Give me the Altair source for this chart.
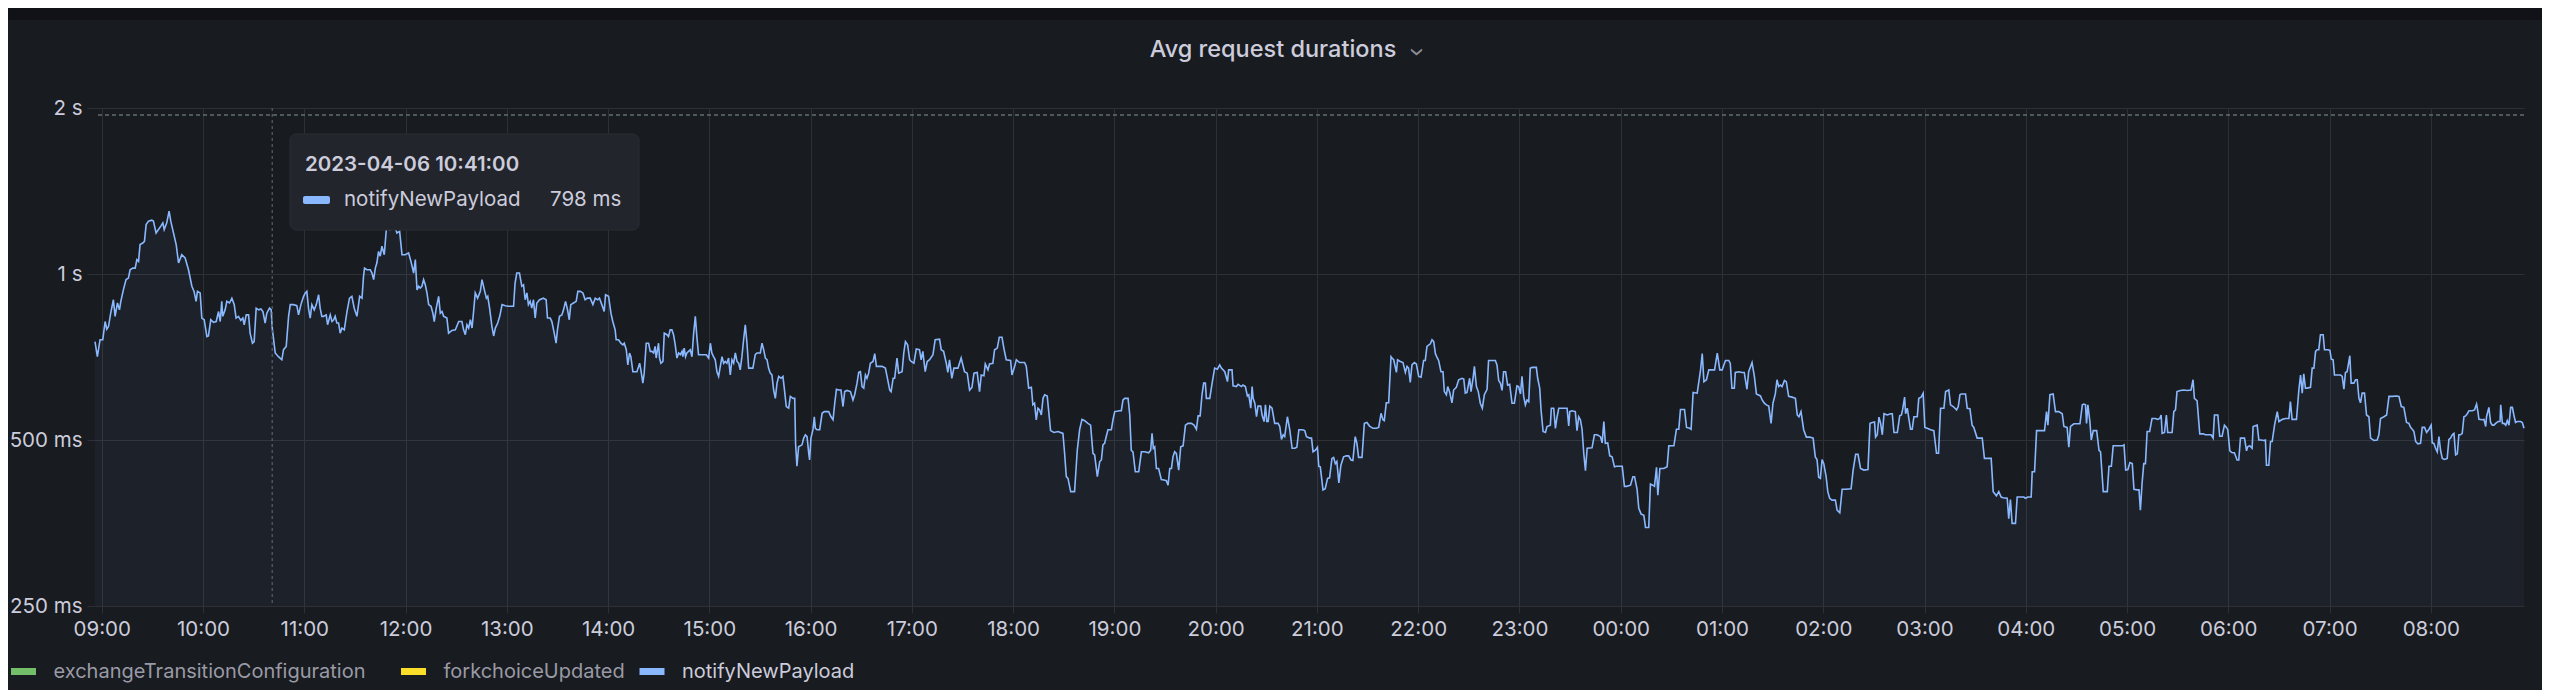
import altair as alt
import pandas as pd

# ---------------- data ----------------
SERIES = ["exchangeTransitionConfiguration", "forkchoiceUpdated", "notifyNewPayload"]
SERIES_COLORS = ["#73bf69", "#fade2a", "#8ab8ff"]
SHOWN_SERIES = "notifyNewPayload"
Y_TICKS = [250, 500, 1000, 2000]
Y_TICK_LABELS = ["250 ms", "500 ms", "1 s", "2 s"]
START = "2023-04-06 09:00:00"          # minute offsets below are relative to this
HOVER_TIME = "2023-04-06 10:41:00"
HOVER_VALUE_MS = 798
THRESHOLD_MS = 1942
TITLE = "Avg request durations"

# (minutes after 09:00, avg duration in ms)
block_0856_1300 = [
    (-4.0, 754), (-2.6, 708), (-1.0, 760), (0.6, 760), (2.0, 820), (3.0, 794), (4.0, 803), (5.3, 849),
    (6.9, 898), (7.9, 838), (9.3, 886), (10.5, 861), (11.3, 892), (12.8, 936), (14.4, 977), (15.8, 983),
    (16.8, 1018), (18.4, 1025), (19.8, 1025), (20.8, 1062), (21.8, 1054), (22.7, 1131), (24.3, 1138),
    (25.3, 1146), (26.3, 1229), (27.7, 1247), (29.6, 1252), (30.6, 1247), (32.2, 1187), (33.6, 1204),
    (35.0, 1221), (36.2, 1238), (37.0, 1204), (38.5, 1238), (39.9, 1300), (40.9, 1247), (42.5, 1187),
    (44.1, 1131), (45.5, 1047), (47.4, 1084), (49.4, 1069), (51.4, 1018), (53.4, 950), (54.7, 930),
    (55.9, 892), (56.7, 930), (58.3, 924), (59.3, 832), (60.7, 826), (62.3, 770), (63.2, 772), (64.6, 826),
    (66.2, 817), (67.8, 820), (69.2, 855), (70.2, 820), (71.1, 892), (71.7, 838), (73.1, 861), (74.1, 892),
    (75.7, 886), (77.1, 904), (78.5, 880), (79.6, 832), (81.0, 838), (82.4, 824), (83.6, 832), (84.4, 809),
    (85.6, 843), (87.0, 843), (87.9, 781), (89.3, 749), (90.3, 754), (91.5, 867), (92.9, 861), (94.3, 864),
    (95.5, 855), (96.8, 815), (97.8, 849), (99.4, 867), (100.4, 861), (101.0, 798), (102.8, 719), (104.7, 708),
    (106.7, 699), (107.7, 729), (109.3, 739), (110.7, 838), (111.7, 880), (113.6, 880), (115.6, 876),
    (116.6, 843), (118.0, 880), (119.6, 911), (120.6, 924), (121.5, 930), (122.5, 867), (123.5, 832),
    (124.5, 880), (125.9, 861), (127.1, 880), (128.5, 917), (129.4, 867), (130.4, 838), (131.4, 838),
    (133.0, 843), (133.8, 809), (135.4, 843), (136.4, 820), (137.4, 826), (138.3, 838), (139.3, 815),
    (140.3, 815), (141.3, 781), (142.3, 798), (143.7, 792), (145.3, 855), (146.8, 904), (148.2, 911),
    (149.6, 867), (151.2, 838), (152.8, 911), (154.2, 904), (155.1, 990), (155.7, 1025), (157.1, 1018),
    (159.1, 1018), (160.1, 1004), (161.1, 977), (162.1, 1025), (163.0, 1047), (164.0, 1099), (165.0, 1077),
    (166.0, 1123), (167.4, 1084), (168.6, 1204), (170.0, 1260), (170.9, 1204), (172.9, 1221), (173.9, 1212),
    (174.9, 1187), (176.5, 1195), (177.9, 1084), (179.8, 1084), (181.8, 1092), (183.2, 1054), (184.8, 1004),
    (185.8, 1062), (186.8, 936), (187.8, 950), (188.7, 943), (189.7, 950), (190.7, 977), (191.7, 956),
    (192.7, 924), (193.7, 880), (195.1, 874), (196.2, 849), (197.0, 820), (198.2, 867), (199.6, 911),
    (200.6, 849), (201.6, 855), (202.6, 838), (204.5, 832), (205.5, 781), (207.5, 790), (209.5, 792),
    (211.5, 820), (213.4, 820), (214.4, 792), (215.4, 776), (216.4, 809), (217.4, 798), (218.4, 826),
    (219.4, 798), (220.4, 861), (221.3, 924), (222.7, 904), (224.3, 930), (225.3, 977), (226.7, 936),
    (227.9, 904), (228.7, 911), (229.8, 867), (231.2, 803), (232.2, 772), (233.2, 798), (234.6, 815),
    (235.8, 838), (237.2, 880), (239.1, 876), (241.1, 874),
]

block_1300_1700 = [
    (242.0, 874), (244.0, 874), (244.9, 963), (245.9, 1004), (247.5, 1004), (248.9, 950), (249.9, 956),
    (250.9, 898), (251.9, 924), (252.8, 880), (253.8, 892), (254.8, 867), (255.8, 898), (256.8, 832),
    (257.8, 886), (259.4, 898), (261.7, 904), (263.3, 898), (264.1, 832), (265.7, 832), (266.7, 820),
    (268.1, 781), (269.2, 749), (270.0, 792), (271.2, 838), (272.6, 843), (273.6, 861), (274.8, 892),
    (276.0, 861), (277.0, 826), (277.9, 880), (279.5, 886), (281.1, 892), (282.1, 930), (283.5, 930),
    (285.1, 924), (286.4, 898), (287.8, 904), (289.4, 904), (291.0, 880), (292.4, 904), (293.8, 898),
    (294.9, 904), (296.3, 880), (297.7, 855), (298.5, 917), (300.3, 911), (301.7, 849), (302.8, 820),
    (304.2, 792), (304.8, 760), (306.2, 760), (307.6, 749), (308.8, 744), (309.6, 749), (310.8, 729),
    (311.7, 684), (312.7, 719), (313.5, 708), (314.7, 665), (316.1, 665), (317.1, 665), (318.7, 689),
    (319.6, 665), (320.6, 634), (321.4, 661), (322.6, 749), (324.0, 749), (325.0, 724), (326.0, 724),
    (327.0, 719), (327.9, 739), (328.5, 704), (329.9, 749), (330.5, 704), (331.3, 689), (332.5, 694),
    (333.3, 781), (334.9, 776), (335.8, 770), (336.8, 792), (337.8, 792), (338.8, 776), (339.8, 744),
    (340.8, 704), (341.8, 719), (342.8, 714), (343.8, 724), (344.3, 708), (345.1, 734), (345.9, 708),
    (346.7, 719), (347.7, 724), (348.7, 729), (349.7, 708), (350.7, 781), (351.7, 838), (352.6, 770),
    (353.6, 714), (355.6, 714), (358.2, 714), (359.6, 704), (360.6, 749), (361.5, 719), (362.5, 708),
    (363.5, 699), (364.5, 665), (365.5, 652), (366.5, 680), (367.5, 708), (368.5, 689), (369.4, 694),
    (370.4, 689), (371.4, 704), (372.4, 656), (373.4, 699), (374.4, 689), (375.4, 719), (376.4, 694),
    (377.4, 689), (378.3, 670), (379.3, 708), (380.3, 760), (381.3, 809), (382.3, 749), (383.3, 675),
    (384.3, 675), (385.8, 675), (387.2, 714), (388.2, 719), (390.2, 719), (391.2, 749), (392.2, 729),
    (393.2, 704), (394.2, 699), (395.1, 675), (396.1, 661), (397.1, 656), (398.1, 616), (399.1, 595),
    (400.1, 634), (401.1, 652), (402.5, 647), (403.6, 652), (404.4, 621), (405.6, 575), (407.0, 571),
    (408.0, 600), (409.6, 595), (410.6, 595), (411.1, 493), (411.9, 448), (412.9, 486), (414.9, 490),
    (415.9, 504), (416.9, 511), (417.9, 507), (418.9, 473), (419.4, 460), (420.2, 504), (421.4, 522),
    (422.2, 551), (422.8, 525), (423.8, 522), (425.4, 522), (426.8, 559), (428.1, 563), (430.7, 563),
    (432.1, 551), (433.3, 544), (434.3, 583), (435.3, 618), (436.6, 616), (438.0, 616), (438.6, 595),
    (439.2, 575), (440.2, 612), (441.6, 615), (443.6, 612), (445.1, 591), (446.1, 604), (447.5, 634),
    (448.5, 663), (449.5, 665), (450.5, 625), (451.5, 621), (452.5, 656), (453.4, 647), (454.4, 661),
    (455.4, 689), (457.0, 694), (458.0, 717), (459.0, 680), (462.3, 680), (464.3, 675), (465.3, 652),
    (466.9, 616), (467.7, 612), (468.9, 647), (469.8, 647), (471.2, 704), (472.2, 661), (474.2, 665),
    (475.2, 719), (476.2, 754), (477.5, 744), (478.7, 699),
]

block_1700_2100 = [
    (479.6, 694), (481.2, 689), (482.6, 731), (484.5, 729), (485.5, 699), (486.5, 724), (487.9, 665),
    (489.1, 694), (490.5, 699), (492.5, 714), (493.8, 760), (496.4, 762), (497.4, 729), (498.8, 724),
    (500.4, 689), (501.3, 663), (502.3, 699), (503.7, 647), (504.9, 675), (507.3, 675), (509.2, 704),
    (511.2, 665), (512.8, 661), (514.2, 616), (515.6, 623), (516.8, 661), (518.7, 663), (520.1, 612),
    (521.1, 656), (522.7, 654), (523.5, 687), (525.1, 670), (526.0, 687), (528.0, 689), (529.0, 729),
    (530.6, 734), (531.8, 768), (533.4, 768), (534.5, 734), (535.9, 699), (538.5, 697), (539.3, 656),
    (540.9, 680), (541.9, 699), (543.8, 691), (546.8, 691), (547.8, 680), (549.2, 621), (550.8, 623),
    (551.7, 579), (552.7, 583), (553.7, 544), (554.7, 571), (555.7, 567), (556.7, 555), (557.7, 595),
    (558.7, 604), (560.2, 601), (561.0, 567), (562.2, 520), (564.2, 516), (566.6, 518), (569.5, 514),
    (570.5, 473), (571.5, 429), (572.5, 426), (574.1, 403), (576.4, 403), (578.0, 479), (579.4, 522),
    (580.8, 545), (582.4, 542), (584.3, 536), (585.9, 532), (587.3, 473), (588.3, 470), (589.9, 429),
    (591.3, 457), (592.3, 460), (593.2, 490), (594.2, 493), (595.2, 508), (596.2, 522), (598.2, 522),
    (599.2, 545), (600.2, 563), (603.1, 565), (604.1, 565), (605.1, 591), (606.1, 595), (608.1, 595),
    (609.1, 555), (610.0, 479), (611.0, 476), (612.4, 438), (614.4, 438), (616.0, 476), (618.0, 476),
    (620.3, 474), (621.5, 479), (622.3, 514), (623.1, 483), (623.9, 486), (624.9, 444), (626.2, 444),
    (627.8, 424), (629.4, 423), (630.8, 422), (631.8, 414), (632.8, 444), (633.8, 444), (634.7, 466),
    (635.7, 476), (636.7, 473), (638.1, 441), (639.3, 486), (640.7, 488), (642.1, 532), (643.6, 536),
    (645.6, 536), (647.2, 532), (648.6, 523), (649.6, 553), (650.8, 553), (651.9, 604), (652.9, 634),
    (653.9, 634), (654.5, 595), (656.5, 595), (657.9, 634), (659.4, 675), (661.0, 672), (662.4, 684),
    (663.4, 675), (665.4, 665), (667.0, 638), (667.7, 670), (669.7, 670), (670.3, 627), (672.3, 625),
    (673.3, 631), (675.3, 625), (676.2, 629), (677.6, 625), (678.8, 601), (679.6, 604), (680.8, 571),
    (681.6, 625), (682.2, 595), (683.2, 583), (684.2, 551), (685.1, 576), (686.7, 576), (687.5, 555),
    (688.7, 540), (689.5, 579), (690.3, 540), (691.1, 540), (692.1, 576), (693.4, 571), (695.0, 536),
    (697.0, 536), (698.0, 529), (699.0, 501), (700.0, 511), (700.9, 507), (702.5, 551), (703.9, 522),
    (705.3, 483), (706.9, 483), (708.1, 485), (709.3, 522), (711.3, 522), (712.8, 520), (713.8, 507),
    (715.8, 504), (716.8, 504), (717.7, 476), (719.1, 479), (720.3, 485), (721.1, 448),
]

block_2100_0100 = [
    (722.0, 447), (723.6, 406), (724.9, 408), (726.3, 426), (727.5, 427), (728.9, 463), (729.9, 465),
    (730.9, 453), (731.8, 457), (733.0, 418), (734.2, 450), (735.8, 466), (737.4, 468), (738.8, 468),
    (740.2, 460), (741.3, 459), (742.7, 507), (743.7, 493), (744.7, 465), (746.7, 465), (748.1, 536),
    (749.6, 538), (751.2, 530), (753.2, 525), (755.2, 525), (756.6, 527), (758.0, 559), (759.1, 544),
    (759.9, 542), (761.1, 584), (762.5, 584), (763.9, 708), (764.5, 704), (765.5, 699), (767.1, 663),
    (767.8, 699), (769.4, 694), (771.0, 691), (772.4, 663), (773.4, 680), (774.3, 675), (775.3, 636),
    (776.3, 684), (777.7, 691), (778.9, 687), (780.3, 652), (781.7, 650), (783.2, 697), (784.2, 697),
    (785.2, 739), (787.2, 747), (788.2, 760), (789.2, 754), (790.2, 717), (791.1, 707), (792.1, 697),
    (793.5, 665), (794.7, 665), (795.5, 612), (796.7, 604), (797.5, 625), (798.7, 610), (800.0, 584),
    (801.0, 616), (802.6, 623), (804.0, 643), (806.0, 647), (807.0, 645), (807.9, 608), (808.9, 610),
    (810.5, 647), (811.3, 612), (812.5, 647), (813.3, 680), (814.5, 625), (815.6, 612), (816.8, 583),
    (818.0, 571), (819.2, 604), (820.8, 618), (821.7, 697), (823.1, 697), (825.7, 697), (826.7, 684),
    (827.7, 641), (828.7, 634), (829.7, 615), (830.6, 665), (831.8, 665), (833.0, 629), (834.2, 631),
    (835.6, 583), (837.0, 583), (838.5, 627), (839.5, 625), (840.6, 606), (841.5, 652), (842.5, 600),
    (843.5, 579), (844.5, 591), (845.5, 587), (846.4, 675), (847.6, 677), (850.0, 677), (850.8, 647),
    (852.0, 621), (852.8, 567), (854.0, 518), (855.4, 516), (856.3, 529), (858.3, 532), (858.9, 571),
    (860.3, 571), (861.3, 525), (862.3, 551), (863.3, 571), (865.2, 571), (868.2, 571), (869.2, 530),
    (869.8, 563), (871.1, 565), (873.1, 563), (874.1, 520), (875.1, 551), (876.1, 544), (877.1, 523),
    (878.1, 473), (879.1, 440), (880.1, 483), (883.0, 484), (884.4, 511), (886.0, 511), (888.0, 507),
    (889.0, 494), (890.0, 540), (890.9, 493), (892.3, 494), (893.5, 468), (894.9, 466), (896.3, 447),
    (897.5, 448), (900.9, 448), (902.2, 412), (903.4, 412), (905.8, 414), (907.2, 429), (908.2, 429),
    (909.7, 407), (910.7, 376), (912.1, 367), (913.7, 365), (914.7, 347), (916.6, 347), (917.6, 416),
    (919.0, 414), (920.0, 412), (921.2, 446), (922.0, 397), (923.2, 444), (925.5, 444), (927.5, 447),
    (928.5, 488), (931.5, 488), (933.0, 523), (934.4, 523), (935.4, 568), (937.8, 568), (939.0, 527),
    (940.9, 525), (941.7, 523), (942.9, 610), (945.3, 608), (946.3, 638), (947.3, 670), (948.3, 717),
    (949.3, 638), (950.8, 643), (952.2, 670), (953.6, 670), (955.6, 670), (957.2, 719), (958.7, 670),
    (960.1, 670), (961.1, 684), (962.1, 697), (964.0, 697),
]

block_0100_0500 = [
    (964.9, 689), (965.9, 621), (967.3, 621), (967.9, 663), (969.9, 665), (971.9, 663), (973.2, 663),
    (974.8, 618), (975.8, 665), (977.8, 691), (979.2, 652), (980.4, 606), (982.8, 601), (983.8, 591),
    (985.1, 583), (986.3, 579), (987.7, 576), (989.1, 536), (990.2, 583), (991.6, 606), (992.6, 643),
    (993.6, 625), (994.6, 629), (995.6, 625), (997.0, 641), (998.1, 638), (999.5, 600), (1001.5, 598),
    (1003.5, 595), (1004.6, 555), (1005.6, 551), (1006.8, 563), (1008.4, 522), (1010.0, 506), (1012.0, 506),
    (1014.0, 504), (1015.3, 466), (1016.3, 461), (1017.3, 428), (1018.3, 426), (1019.3, 461), (1020.3, 453),
    (1021.7, 429), (1022.7, 403), (1023.8, 392), (1025.2, 389), (1027.2, 389), (1028.2, 373), (1029.8, 369),
    (1031.2, 407), (1033.2, 407), (1036.5, 408), (1037.7, 441), (1039.2, 471), (1040.6, 471), (1042.1, 444),
    (1044.1, 441), (1046.5, 442), (1047.7, 536), (1049.1, 538), (1050.4, 539), (1051.0, 506), (1052.0, 511),
    (1053.0, 550), (1054.0, 536), (1055.0, 511), (1056.0, 558), (1057.9, 555), (1059.9, 558), (1060.9, 558),
    (1061.9, 516), (1063.9, 516), (1065.3, 553), (1066.3, 555), (1067.0, 567), (1068.2, 598), (1068.8, 558),
    (1069.8, 571), (1070.7, 547), (1071.7, 523), (1072.7, 523), (1073.7, 551), (1075.7, 551), (1076.6, 595),
    (1078.0, 598), (1079.2, 608), (1080.2, 527), (1081.6, 525), (1083.6, 522), (1085.5, 520), (1087.1, 473),
    (1088.3, 473), (1089.5, 571), (1091.5, 571), (1092.5, 612), (1094.4, 616), (1095.4, 579), (1097.0, 575),
    (1099.0, 567), (1100.0, 575), (1101.0, 604), (1101.7, 606), (1104.3, 606), (1105.3, 571), (1106.9, 570),
    (1108.2, 532), (1109.2, 527), (1111.2, 504), (1114.2, 504), (1115.5, 463), (1117.5, 463), (1119.5, 463),
    (1120.7, 403), (1122.6, 396), (1124.0, 403), (1125.4, 394), (1126.6, 393), (1129.0, 392), (1129.9, 360),
    (1130.9, 390), (1131.9, 353), (1133.9, 353), (1134.9, 394), (1136.9, 394), (1138.9, 394), (1139.8, 392),
    (1141.2, 394), (1143.2, 394), (1143.8, 438), (1145.2, 438), (1146.4, 520), (1147.8, 520), (1149.7, 520),
    (1151.1, 520), (1152.3, 563), (1153.1, 532), (1154.3, 604), (1156.2, 606), (1157.6, 563), (1159.6, 563),
    (1161.6, 558), (1162.6, 529), (1164.5, 527), (1165.5, 485), (1166.5, 529), (1168.5, 535), (1172.1, 535),
    (1173.5, 579), (1174.4, 581), (1175.4, 579), (1176.0, 536), (1176.8, 579), (1178.0, 540), (1178.8, 500),
    (1180.0, 520), (1182.0, 520), (1183.4, 479), (1184.3, 476), (1185.9, 403), (1188.3, 403), (1189.3, 448),
    (1190.7, 448), (1191.8, 488), (1197.2, 488), (1198.2, 490), (1199.2, 441), (1200.5, 442), (1201.7, 455),
    (1203.1, 453), (1204.1, 407), (1206.1, 406), (1207.1, 406),
]

block_0500_0855 = [
    (1207.9, 373), (1208.9, 417), (1209.9, 453), (1210.9, 453), (1211.9, 518), (1213.4, 518), (1214.8, 547),
    (1216.8, 547), (1218.2, 545), (1219.4, 547), (1220.2, 555), (1220.8, 514), (1222.2, 516), (1223.3, 555),
    (1224.1, 516), (1226.7, 516), (1227.7, 563), (1228.7, 567), (1229.6, 612), (1231.6, 615), (1233.6, 616),
    (1235.6, 615), (1237.9, 616), (1239.1, 643), (1239.9, 595), (1241.5, 589), (1243.1, 513), (1245.1, 513),
    (1246.4, 511), (1249.8, 511), (1251.0, 504), (1251.8, 555), (1253.8, 555), (1254.9, 508), (1256.3, 508),
    (1257.7, 532), (1258.9, 527), (1259.7, 522), (1260.9, 478), (1262.3, 474), (1263.6, 474), (1265.2, 460),
    (1266.2, 460), (1267.2, 504), (1269.6, 504), (1270.8, 478), (1271.5, 486), (1272.7, 488), (1274.1, 483),
    (1274.7, 529), (1275.5, 530), (1277.1, 532), (1278.1, 500), (1279.4, 500), (1281.0, 499), (1282.0, 500),
    (1282.6, 450), (1284.0, 450), (1285.0, 497), (1286.0, 497), (1287.4, 532), (1289.0, 563), (1290.0, 540),
    (1292.0, 545), (1293.9, 547), (1295.9, 547), (1296.8, 587), (1297.8, 545), (1300.4, 545), (1301.8, 616),
    (1302.8, 656), (1303.8, 608), (1304.7, 659), (1305.7, 621), (1306.7, 621), (1308.7, 623), (1309.7, 675),
    (1310.7, 675), (1311.7, 724), (1312.6, 729), (1313.6, 729), (1314.6, 776), (1316.2, 776), (1317.0, 729),
    (1319.0, 729), (1320.2, 727), (1321.0, 701), (1322.1, 699), (1322.9, 656), (1324.9, 656), (1326.5, 656),
    (1327.5, 652), (1328.5, 618), (1329.4, 663), (1330.4, 665), (1332.0, 711), (1332.8, 634), (1334.4, 634),
    (1335.4, 643), (1336.4, 643), (1337.4, 595), (1338.3, 584), (1339.3, 608), (1340.7, 608), (1341.9, 555),
    (1343.3, 551), (1344.3, 504), (1346.3, 499), (1348.2, 500), (1349.2, 511), (1350.2, 547), (1352.2, 551),
    (1353.8, 555), (1355.2, 600), (1357.1, 600), (1359.7, 601), (1361.1, 600), (1362.5, 575), (1364.0, 573),
    (1365.6, 538), (1367.0, 536), (1368.0, 527), (1369.0, 523), (1370.0, 518), (1371.0, 497), (1372.3, 492),
    (1373.9, 493), (1374.9, 527), (1376.3, 527), (1377.5, 516), (1378.9, 523), (1380.2, 532), (1380.8, 494),
    (1381.8, 493), (1382.8, 483), (1383.8, 476), (1384.8, 507), (1385.8, 478), (1386.8, 463), (1388.1, 461),
    (1389.7, 463), (1390.7, 501), (1391.7, 504), (1392.7, 511), (1393.7, 514), (1394.7, 470), (1395.7, 472),
    (1396.6, 511), (1397.6, 511), (1398.6, 514), (1399.6, 551), (1400.6, 553), (1401.6, 558), (1402.6, 565),
    (1404.5, 565), (1405.9, 567), (1407.1, 581), (1407.9, 563), (1408.5, 545), (1410.5, 544), (1411.5, 545),
    (1412.5, 529), (1413.0, 551), (1414.4, 573), (1415.4, 538), (1416.4, 532), (1417.4, 532), (1418.4, 536),
    (1419.8, 540), (1421.0, 540), (1421.4, 579), (1422.4, 536), (1423.4, 536), (1424.4, 532), (1425.3, 542),
    (1426.3, 532), (1427.3, 573), (1428.3, 573), (1429.2, 555), (1430.2, 538), (1431.2, 540), (1433.2, 540),
    (1434.2, 538), (1435.2, 525),
]

blocks = [block_0856_1300, block_1300_1700, block_1700_2100,
          block_2100_0100, block_0100_0500, block_0500_0855]

# ---------------- build table ----------------
pairs = [p for b in blocks for p in b]
minutes = [p[0] for p in pairs]
values = [p[1] for p in pairs]
times = (pd.Timestamp(START) + pd.to_timedelta(minutes, unit="m")).round("s")
time_str = list(times.strftime("%Y-%m-%dT%H:%M:%S"))
df = pd.DataFrame({"time": time_str, "ms": values, "series": SHOWN_SERIES})

# ---------------- styling ----------------
BG = "#181b1f"
PAGE_BG = "#111217"
GRID = "#2e3035"
TEXT = "#ccccdc"
DIM = "#9a9aa6"
FONT = "Inter"
W, H = 2429, 498

y_label_expr = "".join(f"datum.value == {v} ? '{l}' : " for v, l in zip(Y_TICKS, Y_TICK_LABELS)) + "''"

x_enc = alt.X(
    "time:T",
    title=None,
    scale=alt.Scale(nice=False),
    axis=alt.Axis(
        format="%H:%M", tickCount=24,
        grid=True, gridColor=GRID, gridWidth=1,
        domain=False, ticks=True, tickColor=GRID, tickSize=7,
        labelColor=TEXT, labelFont=FONT, labelFontSize=20.5,
        labelPadding=6, labelFlush=False, labelOverlap=False,
    ),
)
y_scale = alt.Scale(type="log", domain=[Y_TICKS[0], Y_TICKS[-1]], nice=False)
y_enc = alt.Y(
    "ms:Q",
    title=None,
    scale=y_scale,
    axis=alt.Axis(
        values=Y_TICKS, labelExpr=y_label_expr,
        grid=True, gridColor=GRID, gridWidth=1,
        domain=False, ticks=True, tickColor=GRID, tickSize=8,
        labelColor=TEXT, labelFont=FONT, labelFontSize=20.5, labelPadding=5,
        labelBaseline="middle",
    ),
)


def legend(x, color):
    return alt.Legend(
        title=None, orient="none", legendX=x, legendY=547.5,
        direction="horizontal", padding=0,
        symbolType="M-1,0L1,0", symbolSize=625, symbolStrokeWidth=7, symbolOpacity=1,
        labelFont=FONT, labelFontSize=20, labelOffset=14, labelColor=color,
        columnPadding=20, labelLimit=600,
    )


base = alt.Chart(df)

area = base.mark_area(interpolate="linear", color=SERIES_COLORS[2], opacity=0.05).encode(
    x=x_enc, y=y_enc, y2=alt.datum(Y_TICKS[0])
)

line = base.mark_line(strokeWidth=1.6, interpolate="linear").encode(
    x=x_enc,
    y=y_enc,
    color=alt.Color(
        "series:N",
        scale=alt.Scale(domain=[SHOWN_SERIES], range=[SERIES_COLORS[2]]),
        legend=legend(541, TEXT),
    ),
)

# legend entries for the series that have no samples in this window (dimmed)
idle = alt.Chart(pd.DataFrame({"series": SERIES[:2]})).mark_rule(opacity=0).encode(
    y=alt.value(0),
    stroke=alt.Stroke(
        "series:N",
        scale=alt.Scale(domain=SERIES[:2], range=SERIES_COLORS[:2]),
        legend=legend(-87.5, DIM),
    ),
)

threshold = alt.Chart(pd.DataFrame({"v": [THRESHOLD_MS]})).mark_rule(
    color="#5f6d75", strokeWidth=1.5, strokeDash=[4, 3]
).encode(y=alt.Y("v:Q", scale=y_scale))

crosshair = alt.Chart(pd.DataFrame({"time": [HOVER_TIME.replace(" ", "T")]})).mark_rule(
    color="#5a5f68", strokeWidth=1.2, strokeDash=[3, 3]
).encode(x=alt.X("time:T"))

# hover tooltip box (Grafana overlay)
one = pd.DataFrame({"a": [0]})
tip_box = alt.Chart(one).mark_rect(
    fill="#22252b", cornerRadius=6, stroke="#2a2d33", strokeWidth=1
).encode(x=alt.value(195), x2=alt.value(544), y=alt.value(26), y2=alt.value(122))

tip_title = alt.Chart(one).mark_text(
    text=HOVER_TIME, font=FONT, fontSize=20.5, fontWeight=600, color=TEXT,
    align="left", baseline="middle",
).encode(x=alt.value(210), y=alt.value(57))

tip_swatch = alt.Chart(one).mark_rect(
    fill=SERIES_COLORS[2], cornerRadius=2
).encode(x=alt.value(208), x2=alt.value(235), y=alt.value(88), y2=alt.value(96))

tip_label = alt.Chart(one).mark_text(
    text=SHOWN_SERIES, font=FONT, fontSize=20.5, color=TEXT, align="left", baseline="middle",
).encode(x=alt.value(249), y=alt.value(92))

tip_value = alt.Chart(one).mark_text(
    text=f"{HOVER_VALUE_MS} ms", font=FONT, fontSize=20.5, color=TEXT, align="left", baseline="middle",
).encode(x=alt.value(455), y=alt.value(92))

# panel header: dark page strip, title and menu chevron
top_strip = alt.Chart(one).mark_rect(fill=PAGE_BG).encode(
    x=alt.value(-87), x2=alt.value(2447), y=alt.value(-100), y2=alt.value(-88)
)

title = alt.Chart(one).mark_text(
    text=TITLE, font=FONT, fontSize=23.5, fontWeight=500, color=TEXT,
    align="center", baseline="middle",
).encode(x=alt.value(1178), y=alt.value(-58))

chevron = alt.Chart(one).mark_text(
    text="›", angle=90, font=FONT, fontSize=24, color="#8e8e9a", align="center", baseline="middle",
).encode(x=alt.value(1321), y=alt.value(-56))

chart = alt.layer(
    area, line, idle, threshold, crosshair, tip_box, tip_title, tip_swatch, tip_label, tip_value,
    top_strip, title, chevron,
).properties(
    width=W, height=H,
    autosize=alt.AutoSizeParams(type="none"),
    padding={"left": 87, "top": 100, "right": 18, "bottom": 84},
    background=BG,
).configure_view(stroke=None)

chart.save("out.html", embed_options={"renderer": "svg", "actions": False})
